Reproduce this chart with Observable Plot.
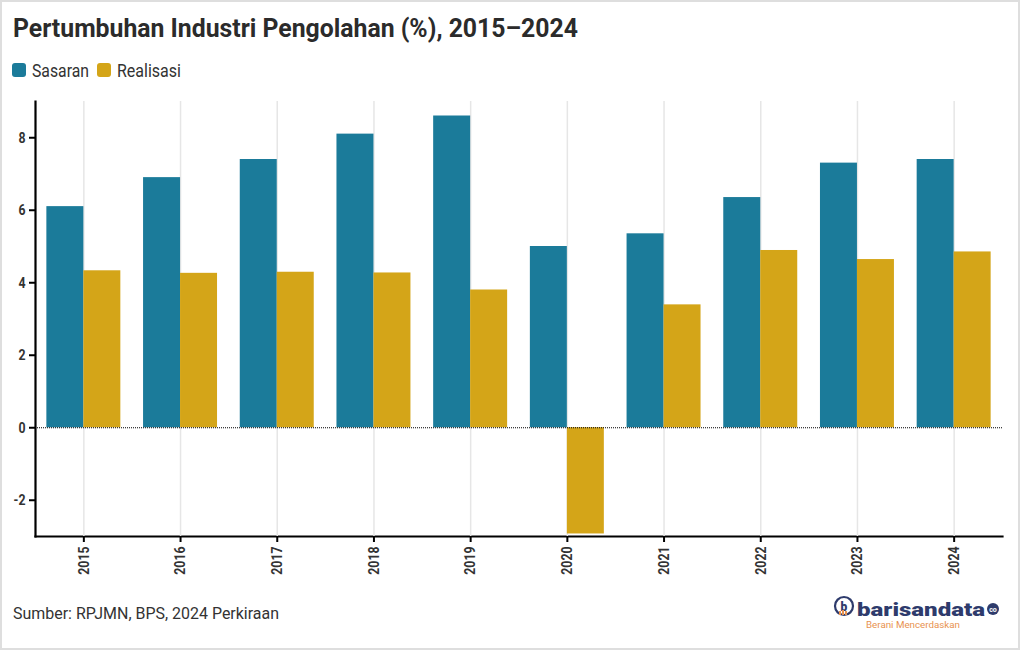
<!DOCTYPE html>
<html>
<head>
<meta charset="utf-8">
<script src="https://cdn.jsdelivr.net/npm/d3@7"></script>
<script src="https://cdn.jsdelivr.net/npm/@observablehq/plot@0.6"></script>
<style>
  html, body { margin: 0; padding: 0; background: #fff; }
  #wrap { position: relative; width: 1020px; height: 650px; overflow: hidden; font-family: Roboto, sans-serif; color: #333; }
  #border { position: absolute; left: 0; top: 0; width: 1020px; height: 650px; box-sizing: border-box; border: 2px solid #dedede; pointer-events: none; }
  .txt { position: absolute; white-space: nowrap; line-height: 1; transform-origin: 0 0; }
  #title { left: 13px; top: 14.8px; font-size: 26px; font-weight: 700; color: #2b2b2b; }
  .sw { position: absolute; width: 14px; height: 14px; border-radius: 3px; }
  .leg { font-size: 18px; color: #333; top: 61.6px; }
  #caption { left: 12.5px; top: 606px; font-size: 16.5px; color: #333; }
  #chart { position: absolute; left: 0; top: 90px; }
  #chart svg text { font-family: Roboto, sans-serif; font-weight: 700; }
  #chart g[aria-label$="tick label"] { fill: #333; }
  #logo { position: absolute; left: 828px; top: 590px; }
</style>
</head>
<body>
<div id="wrap">
  <div id="title" class="txt">Pertumbuhan Industri Pengolahan (%), 2015–2024</div>
  <div class="sw" id="sw1" style="left:12px; top:63px;"></div>
  <div id="leg1" class="txt leg" style="left:32px;">Sasaran</div>
  <div class="sw" id="sw2" style="left:97px; top:63px;"></div>
  <div id="leg2" class="txt leg" style="left:117px;">Realisasi</div>
  <div id="chart"></div>
  <div id="caption" class="txt">Sumber: RPJMN, BPS, 2024 Perkiraan</div>
  <svg id="logo" width="185" height="45" viewBox="0 0 185 45">
    <circle cx="16" cy="16" r="9" fill="none" stroke="#2e3b6c" stroke-width="2.2"></circle>
    <text x="16" y="20.5" text-anchor="middle" font-family="Roboto" font-weight="900" font-size="12" fill="#2e3b6c">b</text>
    <rect x="11" y="21" width="2" height="4" fill="#e8924f"></rect>
    <rect x="14" y="20" width="2" height="5" fill="#e8924f"></rect>
    <rect x="17" y="21" width="2" height="4" fill="#e8924f"></rect>
    <text id="logotxt" x="29" y="26" font-family="Roboto" font-weight="900" font-size="19" fill="#2e3b6c" textLength="128" lengthAdjust="spacingAndGlyphs">barisandata</text>
    <circle cx="165" cy="19" r="6" fill="#2e3b6c"></circle>
    <text x="165" y="21.5" text-anchor="middle" font-family="Roboto" font-weight="700" font-size="7" fill="#fff">co</text>
    <text x="38" y="38" font-family="Roboto" font-size="9" fill="#e8924f" textLength="94" lengthAdjust="spacingAndGlyphs">Berani Mencerdaskan</text>
  </svg>
  <div id="border"></div>
</div>
<script>
// ---- Data ----
const years = ["2015", "2016", "2017", "2018", "2019", "2020", "2021", "2022", "2023", "2024"];
const sasaran = [6.1, 6.9, 7.4, 8.1, 8.6, 5.0, 5.35, 6.35, 7.3, 7.4];
const realisasi = [4.33, 4.26, 4.29, 4.27, 3.80, -2.93, 3.39, 4.89, 4.64, 4.85];
const seriesNames = ["Sasaran", "Realisasi"];
const seriesColors = ["#1b7b9a", "#d4a518"];
const yTicks = [-2, 0, 2, 4, 6, 8];

const sasaranData = years.map((year, i) => ({year, value: sasaran[i], series: seriesNames[0]}));
const realisasiData = years.map((year, i) => ({year, value: realisasi[i], series: seriesNames[1]}));

// ---- Layout ----
const W = 1020, H = 500;
const mL = 35, mR = 18, mT = 11, mB = 54;
const pad = 0.235;
const step = (W - mL - mR) / years.length;
const bw = step * (1 - pad);

document.getElementById("sw1").style.background = seriesColors[0];
document.getElementById("sw2").style.background = seriesColors[1];

const chart = Plot.plot({
  width: W,
  height: H,
  marginLeft: mL,
  marginRight: mR,
  marginTop: mT,
  marginBottom: mB,
  style: {background: "transparent", fontSize: "15px", color: "#000", overflow: "visible"},
  x: {type: "band", domain: years, paddingInner: pad, paddingOuter: pad / 2, round: false, label: null,
      tickRotate: -90, tickSize: 6, tickPadding: 4, line: true},
  y: {domain: [-3, 9], ticks: yTicks, tickFormat: d => String(d), label: null,
      tickSize: 6, tickPadding: 4, line: true},
  marks: [
    Plot.gridX(years, {stroke: "#e6e6e6", strokeOpacity: 1, strokeWidth: 1.5}),
    Plot.barY(sasaranData, {x: "year", y: "value", fill: seriesColors[0], insetRight: bw / 2}),
    Plot.barY(realisasiData, {x: "year", y: "value", fill: seriesColors[1], insetLeft: bw / 2}),
    Plot.ruleY([0], {stroke: "#000", strokeWidth: 1, strokeDasharray: "1,1"})
  ]
});
document.getElementById("chart").appendChild(chart);

// thicker axis strokes (ticks and axis lines)
chart.querySelectorAll('g[aria-label*="axis"]').forEach(g => {
  const lab = g.getAttribute("aria-label");
  if (!/label/.test(lab)) g.setAttribute("stroke-width", 2);
});
chart.querySelectorAll('[aria-label="frame"]').forEach(l => l.setAttribute("stroke-width", 2.2));

// condense SVG tick labels (reference uses a condensed face)
chart.querySelectorAll('g[aria-label$="tick label"] text').forEach(t => {
  const L = t.getComputedTextLength();
  t.setAttribute("textLength", (L * 0.82).toFixed(2));
  t.setAttribute("lengthAdjust", "spacingAndGlyphs");
});

// fit HTML texts to their widths in the reference (condensed face)
function fit(id, target) {
  const el = document.getElementById(id);
  const w = el.getBoundingClientRect().width;
  el.style.transform = `scaleX(${target / w})`;
}
fit("title", 565);
fit("leg1", 57);
fit("leg2", 64);
fit("caption", 266);
</script>
</body>
</html>
